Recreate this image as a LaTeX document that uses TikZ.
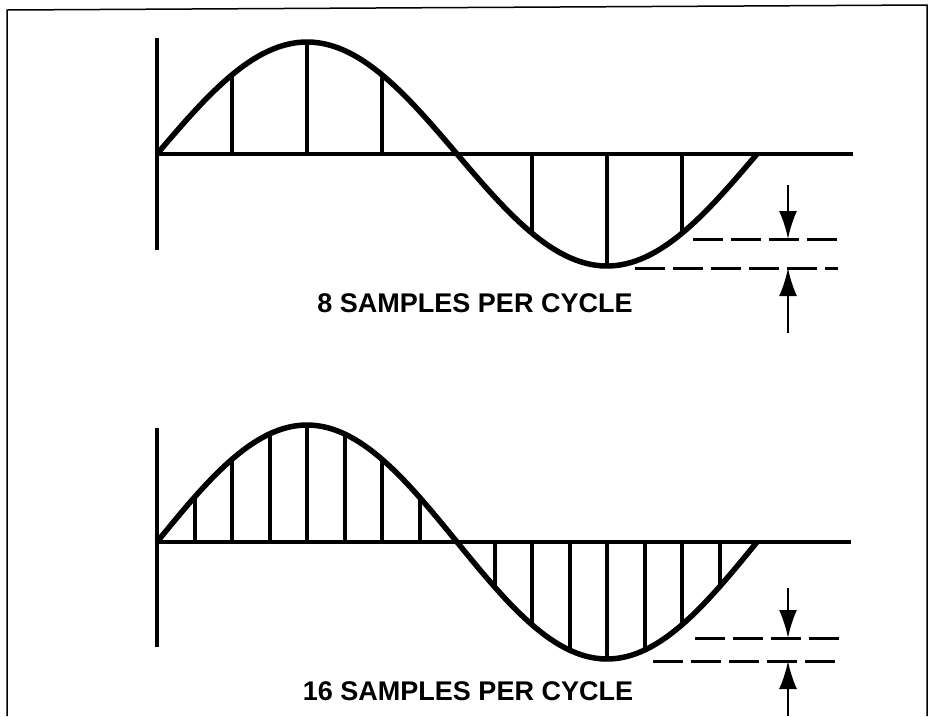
\documentclass[tikz,border=0pt]{standalone}
\usepackage{fontspec}
\setmainfont{Liberation Sans}
\usepackage{tikz}
\usetikzlibrary{arrows.meta}

\begin{document}
\begin{tikzpicture}[x=1pt, y=-1pt,
    frame/.style={line width=1.5pt},
    axis/.style={line width=3.5pt},
    wave/.style={line width=5.5pt},
    sample/.style={line width=4pt},
    level/.style={line width=3pt, dash pattern=on 30pt off 8pt},
    gauge/.style={line width=2.5pt, -{Latex[length=28pt, width=18pt]}},
    caption/.style={font=\bfseries\fontsize{27}{32}\selectfont, inner sep=0pt}]
    \useasboundingbox (0,0) rectangle (933,716);
    % frame
    \draw[frame] (7,716) -- (7,10) -- (927,5) -- (927,716);

    % top: 8 samples
    \draw[axis] (157,38) -- (157,250);
    \draw[axis] (157,154) -- (853,154);
    \foreach \k in {1,...,7} {
        \draw[sample] ({157+75*\k},154) -- ({157+75*\k},{154-112*sin(45*\k)});
    }
    \draw[wave] plot[domain=0:600, samples=120] ({157+\x},{154-112*sin(0.6*\x)});
    \draw[level] (693,239) -- (838,239);
    \draw[level] (635,268) -- (838,268);
    \coordinate (ta1) at (788,185);
    \coordinate (ta2) at (788,239);
    \coordinate (tb1) at (788,333);
    \coordinate (tb2) at (788,268);
    \draw[gauge] (ta1) -- (ta2);
    \draw[gauge] (tb1) -- (tb2);
    \node[caption] (cap8) at (475,303) {8 SAMPLES PER CYCLE};

    % bottom: 16 samples
    \draw[axis] (157,428) -- (157,647);
    \draw[axis] (157,542) -- (851,542);
    \foreach \k in {1,...,7,9,10,...,15} {
        \draw[sample] ({157+37.5*\k},542) -- ({157+37.5*\k},{542-117*sin(22.5*\k)});
    }
    \draw[wave] plot[domain=0:600, samples=120] ({157+\x},{542-117*sin(0.6*\x)});
    \draw[level] (695,638) -- (840,638);
    \draw[level] (653,661) -- (840,661);
    \coordinate (ba1) at (788,588);
    \coordinate (ba2) at (788,638);
    \coordinate (bb1) at (788,716);
    \coordinate (bb2) at (788,661);
    \draw[gauge] (ba1) -- (ba2);
    \draw[gauge] (bb1) -- (bb2);
    \node[caption] (cap16) at (468,691) {16 SAMPLES PER CYCLE};
\end{tikzpicture}
\end{document}
